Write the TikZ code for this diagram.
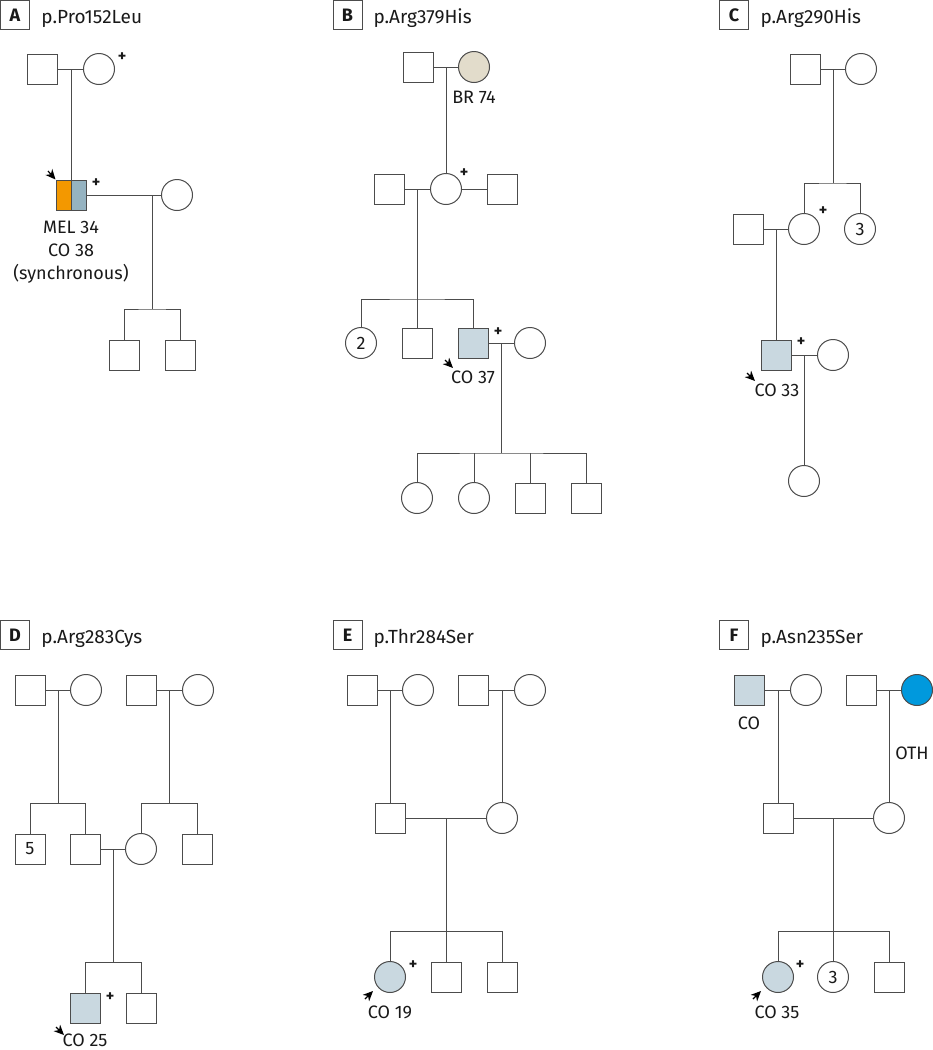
\documentclass[tikz,border=0pt]{standalone}
\usepackage{fontspec}
\setmainfont{Fira Sans}
\usepackage{tikz}
\usetikzlibrary{arrows.meta, calc}
\usepackage{xcolor}
\definecolor{melorange}{HTML}{F39800}
\definecolor{cohalf}{HTML}{95B3C1}
\definecolor{colight}{HTML}{C9D8E0}
\definecolor{brtan}{HTML}{E2DCCB}
\definecolor{othblue}{HTML}{0099DD}

\begin{document}
\begin{tikzpicture}[x=1pt, y=-1pt, color=black!70, line width=1pt,
  every node/.style={text=black!90},
  male/.style={draw, rectangle, minimum size=30pt, inner sep=0pt, fill=white},
  female/.style={draw, circle, minimum size=31pt, inner sep=0pt, fill=white},
  lbl/.style={inner sep=0pt, align=center, font=\fontsize{18}{23}\selectfont},
  plus/.style={inner sep=0pt, font=\fontsize{16}{16}\selectfont\bfseries},
  tag/.style={draw, minimum size=29pt, inner sep=0pt, font=\fontsize{18}{18}\selectfont\bfseries},
  title/.style={anchor=base west, inner sep=0pt, font=\fontsize{19}{19}\selectfont},
  parrow/.style={-{Stealth[length=10pt, width=9pt, inset=3pt]}, line width=1.2pt, black}]
\useasboundingbox (0,0) rectangle (933,1050);

% A
\node[tag] (tA) at (15,15) {A};
\node[title] (hA) at (41,23) {p.Pro152Leu};
\node[male] (a1) at (42,69) {};
\node[female] (a2) at (99,69) {};
\node[plus] (a2p) at (122,57) {+};
\coordinate (a12m) at (71,69);
\node[male, path picture={
  \fill[melorange] (path picture bounding box.south west) rectangle (path picture bounding box.north);
  \fill[cohalf] (path picture bounding box.south) rectangle (path picture bounding box.north east);}]
  (a3) at (71,195) {};
\draw (a3.north) -- (a3.south);
\node[plus] (a3p) at (96,183) {+};
\node[female] (a4) at (177,195) {};
\coordinate (a34m) at (152,195);
\coordinate (a34s) at (152,309);
\node[male] (a5) at (124,355) {};
\node[male] (a6) at (180,355) {};
\draw (a1) -- (a2);
\draw (a12m) -- (a3);
\draw (a3) -- (a4);
\draw (a34m) -- (a34s);
\draw (a5) |- (a34s) -| (a6);
\node[lbl] (a3l) at (71,252) {MEL 34\\CO 38\\(synchronous)};
\coordinate (a3a) at (48,171);
\draw[parrow] (a3a) -- (a3.north west);

% B
\node[tag] (tB) at (347.5,15) {B};
\node[title] (hB) at (373,23) {p.Arg379His};
\node[male] (b1) at (418,67) {};
\node[female, fill=brtan] (b2) at (474,67) {};
\node[lbl] (b2l) at (474,97) {BR 74};
\coordinate (b12m) at (446,67);
\node[male] (b3) at (389,189) {};
\node[female] (b4) at (446,189) {};
\node[plus] (b4p) at (464,173) {+};
\node[male] (b5) at (502,189) {};
\coordinate (b34m) at (417,189);
\coordinate (b34s) at (417,299);
\node[female, font=\fontsize{18}{18}\selectfont] (b6) at (361,343) {2};
\node[male] (b7) at (417,343) {};
\node[male, fill=colight] (b8) at (473,343) {};
\node[plus] (b8p) at (498,332) {+};
\node[female] (b9) at (530,343) {};
\coordinate (b89m) at (501,343);
\coordinate (b89s) at (501,453);
\node[female] (b10) at (417,498) {};
\node[female] (b11) at (474,498) {};
\node[male] (b12) at (530,498) {};
\node[male] (b13) at (586,498) {};
\draw (b1) -- (b2);
\draw (b12m) -- (b4);
\draw (b3) -- (b4);
\draw (b4) -- (b5);
\draw (b34m) -- (b7);
\draw (b6) |- (b34s) -| (b8);
\draw (b8) -- (b9);
\draw (b89m) -- (b89s);
\draw (b10) |- (b89s) -| (b13);
\draw (b11) -- (b11 |- b89s);
\draw (b12) -- (b12 |- b89s);
\coordinate (b8a) at (445,360);
\coordinate (b8b) at (453,368);
\draw[parrow] (b8a) -- (b8b);
\node[lbl] (b8l) at (473,377) {CO 37};

% C
\node[tag] (tC) at (734,15) {C};
\node[title] (hC) at (760,23) {p.Arg290His};
\node[male] (c1) at (805,69) {};
\node[female] (c2) at (861,69) {};
\coordinate (c12m) at (833,69);
\coordinate (c12s) at (833,183);
\node[male] (c3) at (748,229) {};
\node[female] (c4) at (804,229) {};
\node[plus] (c4p) at (823,211) {+};
\node[female, font=\fontsize{18}{18}\selectfont] (c5) at (860,229) {3};
\coordinate (c34m) at (776,229);
\node[male, fill=colight] (c6) at (776,355) {};
\node[plus] (c6p) at (801,342) {+};
\node[female] (c7) at (833,355) {};
\coordinate (c67m) at (804,355);
\node[female] (c8) at (804,481) {};
\draw (c1) -- (c2);
\draw (c12m) -- (c12s);
\draw (c4) |- (c12s) -| (c5);
\draw (c3) -- (c4);
\draw (c34m) -- (c6);
\draw (c6) -- (c7);
\draw (c67m) -- (c8);
\coordinate (c6a) at (747,373);
\coordinate (c6b) at (755,381);
\draw[parrow] (c6a) -- (c6b);
\node[lbl] (c6l) at (777,390) {CO 33};

% D
\node[tag] (tD) at (15,635) {D};
\node[title] (hD) at (41,643) {p.Arg283Cys};
\node[male] (d1) at (30,690) {};
\node[female] (d2) at (86,690) {};
\coordinate (d12m) at (58,690);
\coordinate (d12s) at (58,803);
\node[male] (d3) at (141,690) {};
\node[female] (d4) at (198,690) {};
\coordinate (d34m) at (169,690);
\coordinate (d34s) at (169,803);
\node[male, font=\fontsize{18}{18}\selectfont] (d5) at (30,849) {5};
\node[male] (d6) at (85,849) {};
\node[female] (d7) at (141,849) {};
\node[male] (d8) at (197,849) {};
\coordinate (d67m) at (113,849);
\coordinate (d67s) at (113,962);
\node[male, fill=colight] (d9) at (85,1008) {};
\node[plus] (d9p) at (110,997) {+};
\node[male] (d10) at (141,1008) {};
\draw (d1) -- (d2);
\draw (d3) -- (d4);
\draw (d12m) -- (d12s);
\draw (d34m) -- (d34s);
\draw (d5) |- (d12s) -| (d6);
\draw (d7) |- (d34s) -| (d8);
\draw (d6) -- (d7);
\draw (d67m) -- (d67s);
\draw (d9) |- (d67s) -| (d10);
\coordinate (d9a) at (56,1027);
\coordinate (d9b) at (64,1035);
\draw[parrow] (d9a) -- (d9b);
\node[lbl] (d9l) at (85,1040) {CO 25};

% E
\node[tag] (tE) at (347.5,635) {E};
\node[title] (hE) at (373,643) {p.Thr284Ser};
\node[male] (e1) at (362,690) {};
\node[female] (e2) at (418,690) {};
\coordinate (e12m) at (390,690);
\node[male] (e3) at (473,690) {};
\node[female] (e4) at (530,690) {};
\coordinate (e34m) at (502,690);
\node[male] (e5) at (390,818) {};
\node[female] (e6) at (502,818) {};
\coordinate (e56m) at (446,818);
\coordinate (e56s) at (446,931);
\node[female, fill=colight] (e7) at (390,977) {};
\node[plus] (e7p) at (413,965) {+};
\node[male] (e8) at (446,977) {};
\node[male] (e9) at (502,977) {};
\draw (e1) -- (e2);
\draw (e3) -- (e4);
\draw (e12m) -- (e5);
\draw (e34m) -- (e6);
\draw (e5) -- (e6);
\draw (e56m) -- (e8);
\draw (e7) |- (e56s) -| (e9);
\coordinate (e7a) at (365,999);
\coordinate (e7b) at (373,991);
\draw[parrow] (e7a) -- (e7b);
\node[lbl] (e7l) at (390,1012) {CO 19};

% F
\node[tag] (tF) at (734,635) {F};
\node[title] (hF) at (760,643) {p.Asn235Ser};
\node[male, fill=colight] (f1) at (749,690) {};
\node[lbl] (f1l) at (749,723) {CO};
\node[female] (f2) at (806,690) {};
\coordinate (f12m) at (778,690);
\node[male] (f3) at (861,690) {};
\node[female, fill=othblue] (f4) at (917,690) {};
\coordinate (f34m) at (889,690);
\node[lbl] (f4l) at (912,753) {OTH};
\node[male] (f5) at (778,818) {};
\node[female] (f6) at (889,818) {};
\coordinate (f56m) at (833,818);
\coordinate (f56s) at (833,931);
\node[female, fill=colight] (f7) at (778,977) {};
\node[plus] (f7p) at (800,965) {+};
\node[female, font=\fontsize{18}{18}\selectfont] (f8) at (833,977) {3};
\node[male] (f9) at (889,977) {};
\draw (f1) -- (f2);
\draw (f3) -- (f4);
\draw (f12m) -- (f5);
\draw (f34m) -- (f6);
\draw (f5) -- (f6);
\draw (f56m) -- (f8);
\draw (f7) |- (f56s) -| (f9);
\coordinate (f7a) at (753,999);
\coordinate (f7b) at (761,991);
\draw[parrow] (f7a) -- (f7b);
\node[lbl] (f7l) at (777,1012) {CO 35};
\end{tikzpicture}
\end{document}
